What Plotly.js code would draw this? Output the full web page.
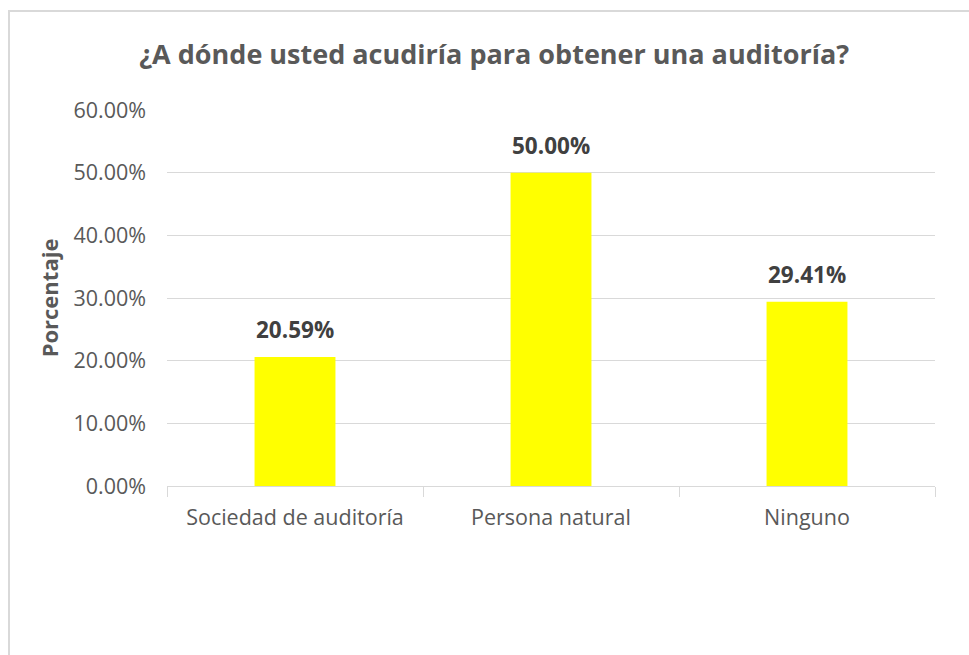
<!DOCTYPE html>
<html>
<head>
<meta charset="utf-8">
<script src="https://cdn.plot.ly/plotly-3.0.1.min.js"></script>
<style>
  html, body { margin: 0; padding: 0; background: #fff; }
  #wrap { position: relative; width: 969px; height: 655px; overflow: hidden; }
  #frame { position: absolute; left: 8px; top: 10px; width: 1000px; height: 700px;
           border-left: 2px solid #d9d9d9; border-top: 2px solid #d9d9d9; box-sizing: border-box; pointer-events: none; }
  #chart { position: absolute; left: 0; top: 0; width: 969px; height: 655px; }
</style>
</head>
<body>
<div id="wrap">
  <div id="chart"></div>
  <div id="frame"></div>
</div>
<script>
const categories = ["Sociedad de auditoría", "Persona natural", "Ninguno"];
const values = [0.2059, 0.5000, 0.2941];
const labels = ["20.59%", "50.00%", "29.41%"];
const yTicks = [0, 0.1, 0.2, 0.3, 0.4, 0.5, 0.6];
const yTickLabels = ["0.00%", "10.00%", "20.00%", "30.00%", "40.00%", "50.00%", "60.00%"];

const FONT = "Open Sans, Noto Sans, sans-serif";

const trace = {
  type: "bar",
  x: categories,
  y: values,
  marker: { color: "#FFFF00" },
  hoverinfo: "skip"
};

const annotations = categories.map((c, i) => ({
  x: c, y: values[i], xref: "x", yref: "y",
  text: "<b>" + labels[i] + "</b>",
  showarrow: false, yanchor: "bottom", yshift: 10,
  font: { family: FONT, size: 22.5, color: "#404040" }
}));

const layout = {
  width: 969, height: 655,
  margin: { l: 167, r: 34, t: 110, b: 169 },
  paper_bgcolor: "rgba(0,0,0,0)",
  plot_bgcolor: "#fff",
  showlegend: false,
  bargap: 0.684,
  title: {
    text: "<b>¿A dónde usted acudiría para obtener una auditoría?</b>",
    font: { family: FONT, size: 27, color: "#595959" },
    xref: "container", x: 0.51, xanchor: "center",
    yref: "container", y: 1 - 55 / 655, yanchor: "middle"
  },
  xaxis: {
    type: "category",
    showline: true, linecolor: "#d9d9d9", linewidth: 1,
    ticks: "outside", tickson: "boundaries", ticklen: 10, tickcolor: "#d9d9d9", tickwidth: 1,
    tickfont: { family: FONT, size: 21.5, color: "#595959" },
    ticklabelstandoff: 12,
    showgrid: false, zeroline: false
  },
  yaxis: {
    range: [0, 0.6],
    tickvals: yTicks, ticktext: yTickLabels,
    tickfont: { family: FONT, size: 21.5, color: "#595959" },
    ticklabelstandoff: 20,
    showgrid: true, gridcolor: "#d9d9d9", gridwidth: 1,
    zeroline: false, showline: false, ticks: "",
    title: { text: "<b>Porcentaje</b>", font: { family: FONT, size: 22, color: "#595959" }, standoff: 8 }
  },
  annotations: annotations
};

Plotly.newPlot("chart", [trace], layout, { displayModeBar: false, staticPlot: true });
</script>
</body>
</html>
